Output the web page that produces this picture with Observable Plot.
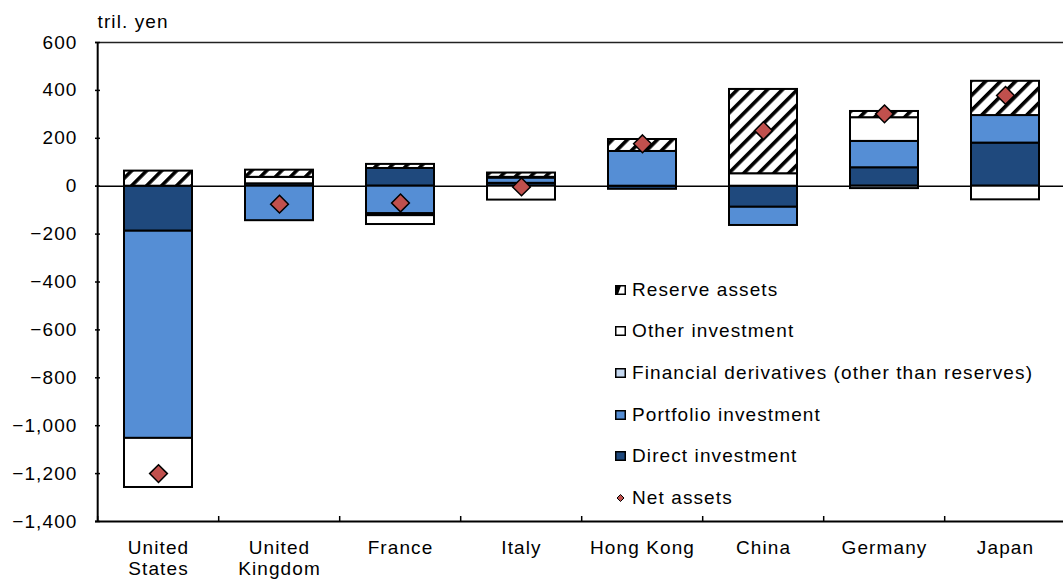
<!DOCTYPE html>
<html>
<head>
<meta charset="utf-8">
<script src="https://cdn.jsdelivr.net/npm/d3@7"></script>
<script src="https://cdn.jsdelivr.net/npm/@observablehq/plot@0.6"></script>
<style>
  body { margin: 0; background: #fff; }
  #wrap { position: relative; width: 1063px; height: 583px; font-family: "Liberation Sans", Arial, sans-serif; }
  #legend { position: absolute; left: 615px; top: 269px; font-size: 19px; letter-spacing: 1.1px; color: #000; }
  .item { height: 41.6px; display: flex; align-items: center; white-space: nowrap; }
  .sw { width: 11px; height: 10px; margin-right: 6px; display: block; flex: none; }
</style>
</head>
<body>
<svg width="0" height="0" style="position:absolute">
  <defs>
    <pattern id="hatch" patternUnits="userSpaceOnUse" width="10.6" height="10.6" patternTransform="rotate(45)">
      <rect width="10.6" height="10.6" fill="white"></rect>
      <rect width="3.6" height="10.6" fill="black"></rect>
    </pattern>
  </defs>
</svg>
<div id="wrap"><div id="legend"></div></div>
<script>
// ---- data (tril. yen) ----
const countries = ["United States", "United Kingdom", "France", "Italy", "Hong Kong", "China", "Germany", "Japan"];
const xLabels = ["United\nStates", "United\nKingdom", "France", "Italy", "Hong Kong", "China", "Germany", "Japan"];
const seriesNames = ["Direct investment", "Portfolio investment", "Financial derivatives (other than reserves)", "Other investment", "Reserve assets"];
const direct      = [-188,   10,   74,  12, -13, -88,  77, 180];
const portfolio   = [-865, -144, -115,  22, 145, -76, 110, 115];
const derivatives = [   0,    0,   -8,   3,   0,   0, -10,   0];
const other       = [-205,   27,  -37, -58,   0,  52,  99, -57];
const reserve     = [  63,   30,   17,  18,  50, 352,  26, 143];
const net         = [-1200, -75,  -70,  -3, 177, 232, 302, 379];
const yTicks = [600, 400, 200, 0, -200, -400, -600, -800, -1000, -1200, -1400];
const legendOrder = ["Reserve assets", "Other investment", "Financial derivatives (other than reserves)", "Portfolio investment", "Direct investment", "Net assets"];

// ---- styles ----
const seriesColors = ["#1f497d", "#558ed5", "#c6d9f1", "#ffffff", "url(#hatch)"];
const netColor = "#c0504d";

const seriesValues = [direct, portfolio, derivatives, other, reserve];
const rows = [];
countries.forEach((c, i) => seriesValues.forEach((arr, j) => {
  if (arr[i] !== 0) rows.push({country: c, series: seriesNames[j], value: arr[i]});
}));
const netRows = countries.map((c, i) => ({country: c, net: net[i]}));

const W = 1063, H = 583, ML = 95, MR = -5;
const step = (W - ML - MR) / countries.length;

const chart = Plot.plot({
  width: W, height: H,
  marginLeft: ML, marginRight: MR, marginTop: 42, marginBottom: 62,
  style: "font-family: 'Liberation Sans', Arial, sans-serif; font-size: 19px; letter-spacing: 1.1px; color: black; background: white; overflow: visible;",
  x: {domain: countries, paddingInner: 0.44, paddingOuter: 0.22, axis: null, label: null},
  y: {domain: [-1400, 600], axis: null, label: null},
  color: {domain: seriesNames, range: seriesColors},
  marks: [
    Plot.ruleY([0], {stroke: "black", strokeWidth: 1.5}),
    Plot.barY(rows, Plot.stackY({x: "country", y: "value", fill: "series", order: seriesNames, stroke: "black", strokeWidth: 2})),
    Plot.dot(netRows, {x: "country", y: "net", symbol: "diamond2", r: 8, fill: netColor, stroke: "black", strokeWidth: 1.5}),
    Plot.ruleY([600], {stroke: "#222", strokeWidth: 1.5}),
    Plot.ruleY([-1400], {stroke: "black", strokeWidth: 2}),
    Plot.ruleX([countries[0]], {x: d => d, dx: -step / 2, stroke: "black", strokeWidth: 2}),
    Plot.axisY(yTicks, {tickSize: 0, tickPadding: 18, tickFormat: d3.format(","), label: null}),
    Plot.axisY(yTicks, {tickSize: 5, dx: 5, tickFormat: () => "", label: null, strokeWidth: 1.5}),
    Plot.axisX(countries, {tickSize: 5, dx: -step / 2, dy: -5, tickFormat: () => "", label: null, strokeWidth: 1.5}),
    Plot.axisX(countries, {tickSize: 0, tickPadding: 17, lineHeight: 1.12, tickFormat: d => xLabels[countries.indexOf(d)], label: null}),
    Plot.text(["tril. yen"], {text: d => d, frameAnchor: "top-left", dx: 2, dy: -21, textAnchor: "start", lineAnchor: "middle"})
  ]
});
document.getElementById("wrap").prepend(chart);

// ---- legend ----
const legend = document.getElementById("legend");
legendOrder.forEach(name => {
  const item = document.createElement("div");
  item.className = "item";
  let sw;
  if (name === "Net assets") {
    sw = `<svg class="sw" viewBox="0 0 11 10"><path d="M5.5,1.5 L9,5 L5.5,8.5 L2,5 Z" fill="${netColor}" stroke="black" stroke-width="1"/></svg>`;
  } else if (name === "Reserve assets") {
    sw = `<svg class="sw" viewBox="0 0 11 10"><rect x="0.75" y="0.75" width="9.5" height="8.5" fill="white" stroke="black" stroke-width="1.5"/><path d="M0.75,0.75 L6,0.75 L3,9.25 L0.75,9.25 Z" fill="black"/></svg>`;
  } else {
    const c = seriesColors[seriesNames.indexOf(name)];
    sw = `<svg class="sw" viewBox="0 0 11 10"><rect x="0.75" y="0.75" width="9.5" height="8.5" fill="${c}" stroke="black" stroke-width="1.5"/></svg>`;
  }
  item.innerHTML = sw + `<span>${name}</span>`;
  legend.appendChild(item);
});
</script>
</body>
</html>
